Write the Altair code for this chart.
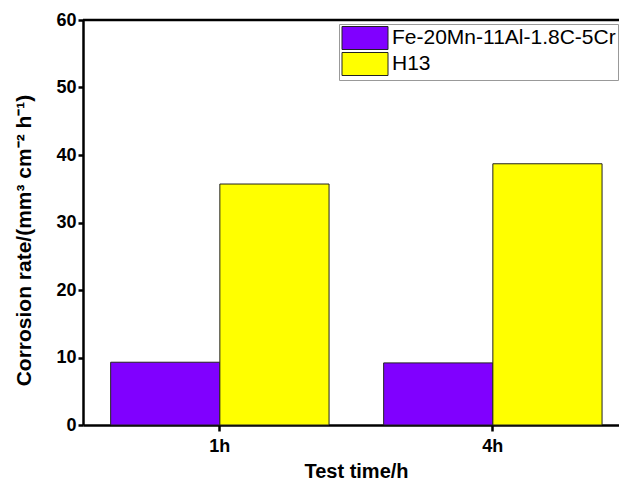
import altair as alt
import pandas as pd

times = ["1h", "4h"]
series = ["Fe-20Mn-11Al-1.8C-5Cr", "H13"]
fe_values = [9.3, 9.2]
h13_values = [35.7, 38.7]
colors = ["#8000FF", "#FFFF00"]
y_ticks = [0, 5, 10, 15, 20, 25, 30, 35, 40, 45, 50, 55, 60]

rows = []
for t, v in zip(times, fe_values):
    rows.append({"time": t, "series": series[0], "value": v})
for t, v in zip(times, h13_values):
    rows.append({"time": t, "series": series[1], "value": v})
df = pd.DataFrame(rows)

FONT = "Liberation Sans"
rect_path = "M-2,-1H2V1H-2Z"

bars = alt.Chart(df).mark_bar(stroke="#222222", strokeWidth=1).encode(
    x=alt.X(
        "time:N",
        sort=times,
        scale=alt.Scale(paddingInner=0.2, paddingOuter=0.0817, align=0.62),
        axis=alt.Axis(
            title="Test time/h",
            labelAngle=0,
            labelFont=FONT,
            labelFontSize=18,
            labelFontWeight="bold",
            labelColor="black",
            labelPadding=6,
            titleFont=FONT,
            titleFontSize=20,
            titleFontWeight="bold",
            titleColor="black",
            titlePadding=6,
            titleX=273,
            domainColor="black",
            domainWidth=2.5,
            tickColor="black",
            tickWidth=2.5,
            tickSize=6,
        ),
    ),
    xOffset=alt.XOffset(
        "series:N", sort=series, scale=alt.Scale(domain=series, paddingInner=0, paddingOuter=0)
    ),
    y=alt.Y(
        "value:Q",
        scale=alt.Scale(domain=[0, 60], nice=False),
        axis=alt.Axis(
            title="Corrosion rate/(mm³ cm⁻² h⁻¹)",
            values=y_ticks,
            labelExpr="datum.value % 10 === 0 ? datum.label : ''",
            labelFont=FONT,
            labelFontSize=18,
            labelFontWeight="bold",
            labelColor="black",
            labelPadding=2,
            titleFont=FONT,
            titleFontSize=21,
            titleFontWeight="bold",
            titleColor="black",
            titleX=-49,
            titleY=220,
            grid=False,
            domainColor="black",
            domainWidth=2.5,
            tickColor="black",
            tickWidth=2.5,
            tickSize={"condition": {"test": "datum.value % 10 !== 0", "value": 3}, "value": 5},
        ),
    ),
    color=alt.Color(
        "series:N",
        sort=series,
        scale=alt.Scale(domain=series, range=colors),
        legend=alt.Legend(
            title=None,
            orient="none",
            legendX=256,
            legendY=4,
            symbolType=rect_path,
            symbolSize=529,
            symbolOffset=12,
            symbolStrokeColor="#222222",
            symbolStrokeWidth=1,
            labelFont=FONT,
            labelFontSize=21,
            labelColor="black",
            labelOffset=15,
            rowPadding=-2,
            padding=2,
            fillColor="white",
            strokeColor="#999999",
            cornerRadius=0,
            labelLimit=400,
        ),
    ),
)

top_line = alt.Chart(pd.DataFrame({"v": [60]})).mark_rule(
    color="black", strokeWidth=2.5
).encode(y=alt.Y("v:Q"))

chart = alt.layer(bars, top_line).properties(
    width=536,
    height=405,
    autosize=alt.AutoSizeParams(type="none"),
    padding={"left": 83, "top": 20, "right": 0, "bottom": 55},
    background="white",
).configure_view(stroke=None)

chart.save("out.html", embed_options={"renderer": "svg", "actions": False})
